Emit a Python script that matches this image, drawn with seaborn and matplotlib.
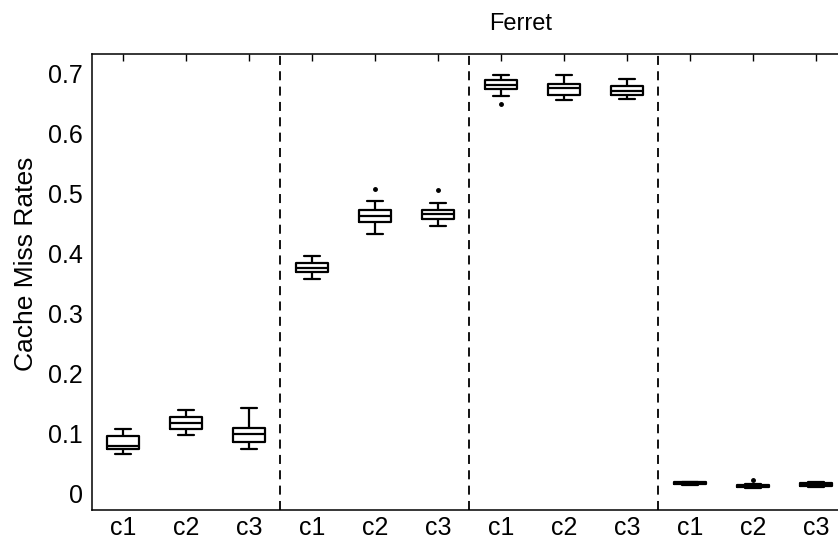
import matplotlib
matplotlib.use("Agg")
import matplotlib.pyplot as plt
import seaborn as sns
import pandas as pd

sns.set_theme(style="white")
plt.rcParams["font.family"] = ["Liberation Sans", "DejaVu Sans"]

# one entry per box, left to right (4 groups of c1, c2, c3)
slots = ["g1c1", "g1c2", "g1c3", "g2c1", "g2c2", "g2c3",
         "g3c1", "g3c2", "g3c3", "g4c1", "g4c2", "g4c3"]
tick_labels = ["c1", "c2", "c3"] * 4

# whisker low, q1, median, q3, whisker high
whis_lo = [0.066, 0.098, 0.074, 0.357, 0.433, 0.445, 0.662, 0.655, 0.657, 0.014, 0.010, 0.011]
q1      = [0.074, 0.108, 0.087, 0.3686, 0.452, 0.457, 0.673, 0.6635, 0.6635, 0.016, 0.0115, 0.013]
median  = [0.079, 0.1175, 0.099, 0.3763, 0.462, 0.465, 0.681, 0.675, 0.670, 0.0175, 0.013, 0.0155]
q3      = [0.097, 0.1286, 0.110, 0.3846, 0.472, 0.472, 0.688, 0.682, 0.679, 0.019, 0.0145, 0.0175]
whis_hi = [0.108, 0.140, 0.142, 0.396, 0.487, 0.484, 0.697, 0.697, 0.691, 0.020, 0.016, 0.019]
# outliers (None = no outlier)
outlier = [None, None, None, None, 0.508, 0.505, 0.648, None, None, None, 0.0225, None]

rows = []
for i, s in enumerate(slots):
    lo, hi = whis_lo[i], whis_hi[i]
    vals = [lo, lo, q1[i], q1[i], median[i], q3[i], q3[i], hi, hi]
    o = outlier[i]
    if o is not None:
        if o > median[i]:
            vals[-1] = o
        else:
            vals[0] = o
    for v in vals:
        rows.append({"slot": s, "rate": v})
df = pd.DataFrame(rows)

fig = plt.figure(figsize=(8.38, 5.42), dpi=100)
ax = fig.add_axes([0.1092, 0.059, 0.902, 0.8414])

for xs in [2.5, 5.5, 8.5]:
    ax.axvline(xs, color="black", ls=(0, (5, 3.5)), lw=1.3, zorder=1)

sns.boxplot(data=df, x="slot", y="rate", order=slots, ax=ax,
            fill=False, color="black", linecolor="black", width=0.5,
            linewidth=1.6, whis=1.5,
            flierprops=dict(marker="o", markerfacecolor="black",
                            markeredgecolor="black", markersize=2.5))

ax.set_xlim(-0.5, 11.5)
ax.set_ylim(-0.027, 0.732)
ax.set_xticks(range(12))
ax.set_xticklabels(tick_labels)
ax.set_yticks([0, 0.1, 0.2, 0.3, 0.4, 0.5, 0.6, 0.7])
ax.set_yticklabels(["0", "0.1", "0.2", "0.3", "0.4", "0.5", "0.6", "0.7"])
ax.tick_params(direction="in", top=True, right=True, length=5, width=1,
               color="black", labelsize=18, labelcolor="black")
ax.tick_params(axis="y", pad=6)
ax.tick_params(axis="x", pad=4)
for sp in ax.spines.values():
    sp.set_color("black")
    sp.set_linewidth(1.1)

ax.set_xlabel("")
ax.set_ylabel("Cache Miss Rates", fontsize=19, color="black")
ax.yaxis.set_label_coords(-0.071, 0.54)
fig.text(521 / 838, 1 - 24 / 542, "Ferret", ha="center", va="center",
         fontsize=17, color="black")

fig.savefig("out.png", dpi=100)
